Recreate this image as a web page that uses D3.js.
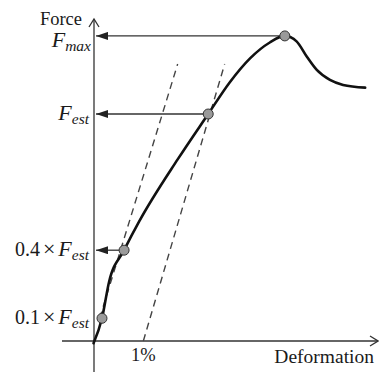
<!DOCTYPE html>
<html>
<head>
<meta charset="utf-8">
<script src="https://cdn.jsdelivr.net/npm/d3@7"></script>
<style>
  html, body { margin: 0; padding: 0; background: #fff; }
  svg { display: block; }
  text { font-family: "Liberation Serif", "Times New Roman", serif; fill: #1a1a1a; }
</style>
</head>
<body>
<svg id="chart" width="379" height="372"></svg>
<script>
// Force–deformation curve, in units of % deformation and multiples of F_est
const curveDeformation = [-0.01, 0.17, 0.32, 0.64, 0.97, 1.78, 2.43, 2.89, 3.32, 3.74, 4.06, 4.31, 4.53, 4.74, 5.02, 5.30, 5.77];
const curveForce       = [-0.01, 0.10, 0.26, 0.40, 0.53, 0.80, 1.00, 1.14, 1.245, 1.315, 1.344, 1.32, 1.252, 1.194, 1.15, 1.128, 1.116];

// Marked points on the curve
const markerDeformation = [0.17, 0.64, 2.43, 4.06];
const markerForce       = [0.10, 0.40, 1.00, 1.344];

// Points that have a leader arrow to the force axis
const arrowForce = [0.40, 1.00, 1.344];
const arrowFrom  = [0.64, 2.43, 4.06];

// Secant stiffness line and the same line offset by 1% deformation
const secantDeformation = [0.12, 1.78];
const secantForce       = [0.10, 1.22];
const offsetDeformation = [1.05, 2.78];
const offsetForce       = [0.00, 1.22];

// Force-axis labels
const forceLabelValues = [0.10, 0.40, 1.00, 1.344];
const forceLabelPrefix = ["0.1", "0.4", "", ""];
const forceLabelSub    = ["est", "est", "est", "max"];

const offsetLabel = "1%";
const xTitle = "Deformation";
const yTitle = "Force";

const svg = d3.select("#chart");

const x = d3.scaleLinear().domain([0, 6]).range([94, 376]);
const y = d3.scaleLinear().domain([0, 1]).range([341, 114]);

// Arrow marker for leader lines
const defs = svg.append("defs");
defs.append("marker")
  .attr("id", "head")
  .attr("viewBox", "0 0 12 8")
  .attr("refX", 12).attr("refY", 4)
  .attr("markerWidth", 12).attr("markerHeight", 8)
  .attr("markerUnits", "userSpaceOnUse")
  .attr("orient", "auto")
  .append("path")
  .attr("d", "M0,0 L12,4 L0,8 Z")
  .attr("fill", "#222");

// Axes
const axisColor = "#333";
svg.append("line")
  .attr("x1", x(0)).attr("x2", x(0))
  .attr("y1", 372).attr("y2", 19)
  .attr("stroke", axisColor).attr("stroke-width", 1.3);
svg.append("path")
  .attr("d", `M${x(0) - 5},${27} L${x(0)},${19} L${x(0) + 5},${27}`)
  .attr("fill", "none").attr("stroke", axisColor).attr("stroke-width", 1.3);

svg.append("line")
  .attr("x1", 62).attr("x2", 378)
  .attr("y1", y(0)).attr("y2", y(0))
  .attr("stroke", axisColor).attr("stroke-width", 1.3);
svg.append("path")
  .attr("d", `M${370},${y(0) - 5} L${378},${y(0)} L${370},${y(0) + 5}`)
  .attr("fill", "none").attr("stroke", axisColor).attr("stroke-width", 1.3);

// Dashed stiffness lines
const dashLine = d3.line().x(d => x(d[0])).y(d => y(d[1]));
[[secantDeformation, secantForce], [offsetDeformation, offsetForce]].forEach(([dx, fy]) => {
  svg.append("path")
    .attr("d", dashLine(dx.map((v, i) => [v, fy[i]])))
    .attr("fill", "none")
    .attr("stroke", "#444")
    .attr("stroke-width", 1.4)
    .attr("stroke-dasharray", "7,5");
});

// Leader arrows to the force axis
arrowForce.forEach((f, i) => {
  svg.append("line")
    .attr("x1", x(arrowFrom[i])).attr("x2", x(0) + 2)
    .attr("y1", y(f)).attr("y2", y(f))
    .attr("stroke", "#333").attr("stroke-width", 1.3)
    .attr("marker-end", "url(#head)");
});

// Main curve
const curve = d3.line()
  .x(d => x(d[0])).y(d => y(d[1]))
  .curve(d3.curveMonotoneX);
svg.append("path")
  .attr("d", curve(curveDeformation.map((v, i) => [v, curveForce[i]])))
  .attr("fill", "none")
  .attr("stroke", "#111")
  .attr("stroke-width", 2.6)
  .attr("stroke-linecap", "round");

// Markers
svg.selectAll("circle.mk")
  .data(markerDeformation.map((v, i) => [v, markerForce[i]]))
  .join("circle")
  .attr("class", "mk")
  .attr("cx", d => x(d[0])).attr("cy", d => y(d[1]))
  .attr("r", 5)
  .attr("fill", "#9a9a9a")
  .attr("stroke", "#333")
  .attr("stroke-width", 1);

// Force-axis labels
forceLabelValues.forEach((v, i) => {
  const isMax = forceLabelSub[i] === "max";
  const t = svg.append("text")
    .attr("x", isMax ? 91 : 89)
    .attr("y", y(v) + (isMax ? 11 : 6))
    .attr("text-anchor", "end");
  if (forceLabelPrefix[i]) {
    t.append("tspan").attr("font-size", 20).text(forceLabelPrefix[i]);
    t.append("tspan").attr("font-size", 22).attr("dx", 3).text("×");
    t.append("tspan").attr("font-size", 22).attr("font-style", "italic").attr("dx", 3).text("F");
  } else {
    t.append("tspan").attr("font-size", 22).attr("font-style", "italic").text("F");
  }
  t.append("tspan")
    .attr("font-size", 15.5)
    .attr("font-style", "italic")
    .attr("dy", 4)
    .text(forceLabelSub[i]);
});

// Axis titles
svg.append("text")
  .attr("x", 82).attr("y", 25)
  .attr("text-anchor", "end")
  .attr("font-size", 18.5)
  .text(yTitle);

svg.append("text")
  .attr("x", 374).attr("y", 362.5)
  .attr("text-anchor", "end")
  .attr("font-size", 19.5)
  .text(xTitle);

svg.append("text")
  .attr("x", x(offsetDeformation[0])).attr("y", 360.5)
  .attr("text-anchor", "middle")
  .attr("font-size", 18.5)
  .text(offsetLabel);
</script>
</body>
</html>
